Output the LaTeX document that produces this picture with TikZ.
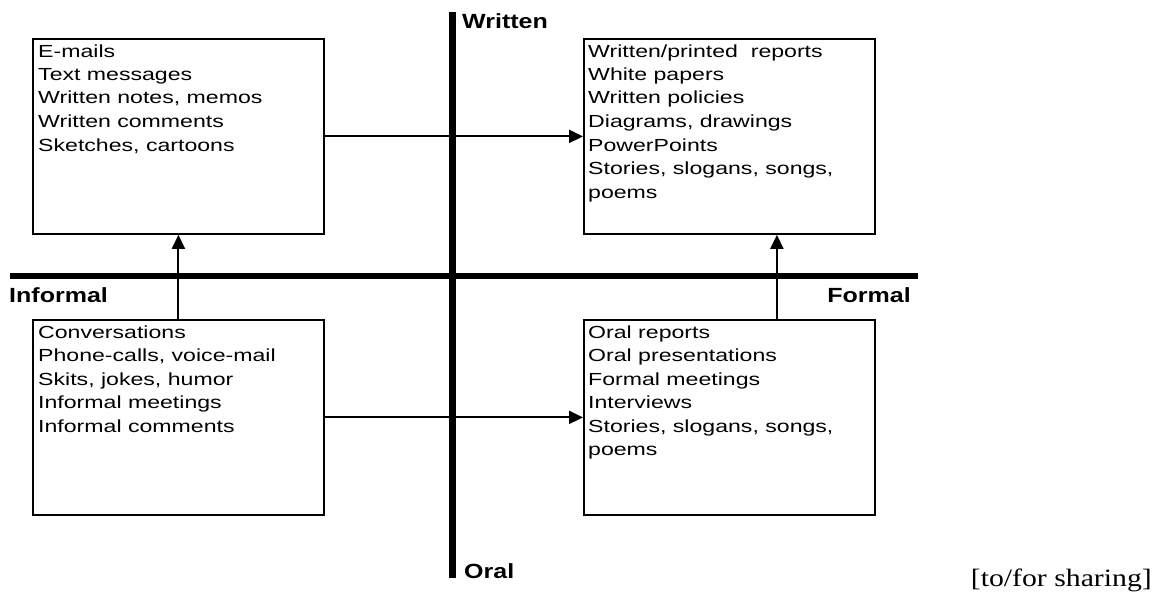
\documentclass[tikz,border=0pt]{standalone}
\usepackage{fontspec}
\setmainfont{Liberation Sans}
\newfontfamily\listfont[FakeStretch=1.32]{Liberation Sans}
\newfontfamily\axisfont[FakeStretch=1.22]{Liberation Sans}
\newfontfamily\notefont[FakeStretch=1.19]{Liberation Serif}
\usetikzlibrary{positioning, arrows.meta, calc}

\tikzset{
  feld/.style={draw, line width=1.8pt, minimum width=291pt, minimum height=195pt, inner sep=0pt},
  liste/.style={anchor=base west, inner sep=0pt, font=\listfont\fontsize{17.5}{23.5}\selectfont},
  achsname/.style={inner sep=0pt, font=\axisfont\bfseries\fontsize{20.5}{24}\selectfont},
  pfeil/.style={line width=2pt, -{Triangle[length=14pt, width=13pt]}}
}
% Liste oben ausrichten: Grundlinie = erste Zeile
\newcommand{\zeilen}[1]{\begin{tabular}[t]{@{}l@{}}#1\end{tabular}}

\begin{document}
\begin{tikzpicture}[x=1pt, y=-1pt]
    \useasboundingbox (0,0) rectangle (1158,594);
    % 1 Einheit = 1 Pixel der Vorlage, y zeigt nach unten

    % --- ACHSEN ---
    \coordinate (links) at (10,276);
    \coordinate (rechts) at (918,276);
    \coordinate (oben) at (452,12);
    \coordinate (unten) at (452,578);
    \draw[line width=6pt] (links) -- (rechts);
    \draw[line width=7pt] (oben) -- (unten);

    \node[achsname, anchor=base west] (written) at (462,29) {Written};
    \node[achsname, anchor=base west] (informal) at (9,302) {Informal};
    \node[achsname, anchor=base east] (formal) at (911,302) {Formal};
    \node[achsname, anchor=base west] (oral) at (464,578) {Oral};

    % --- FELDER ---
    \node[feld, anchor=north west] (tl) at (32,38) {};
    \node[feld, anchor=north west] (tr) at (583,38) {};
    \node[feld, anchor=north west] (bl) at (32,319) {};
    \node[feld, anchor=north west] (br) at (583,319) {};

    \node[liste] (tl-text) at ($(tl.north west)+(6,19)$)
        {\zeilen{E-mails\\Text messages\\Written notes, memos\\Written comments\\Sketches, cartoons}};
    \node[liste] (tr-text) at ($(tr.north west)+(5,19)$)
        {\zeilen{Written/printed\ \ reports\\White papers\\Written policies\\Diagrams, drawings\\PowerPoints\\Stories, slogans, songs,\\poems}};
    \node[liste] (bl-text) at ($(bl.north west)+(6,19)$)
        {\zeilen{Conversations\\Phone-calls, voice-mail\\Skits, jokes, humor\\Informal meetings\\Informal comments}};
    \node[liste] (br-text) at ($(br.north west)+(5,19)$)
        {\zeilen{Oral reports\\Oral presentations\\Formal meetings\\Interviews\\Stories, slogans, songs,\\poems}};

    % --- PFEILE ---
    \draw[pfeil] (tl) -- (tr);
    \draw[pfeil] (bl) -- (br);
    \draw[pfeil] (bl) -- (tl);
    \draw[pfeil] ([xshift=47.5pt]br.north) -- ([xshift=47.5pt]tr.south);

    \node[anchor=base east, inner sep=0pt, font=\notefont\fontsize{25}{30}\selectfont] (hinweis) at (1152,586) {[to/for sharing]};

\end{tikzpicture}
\end{document}
